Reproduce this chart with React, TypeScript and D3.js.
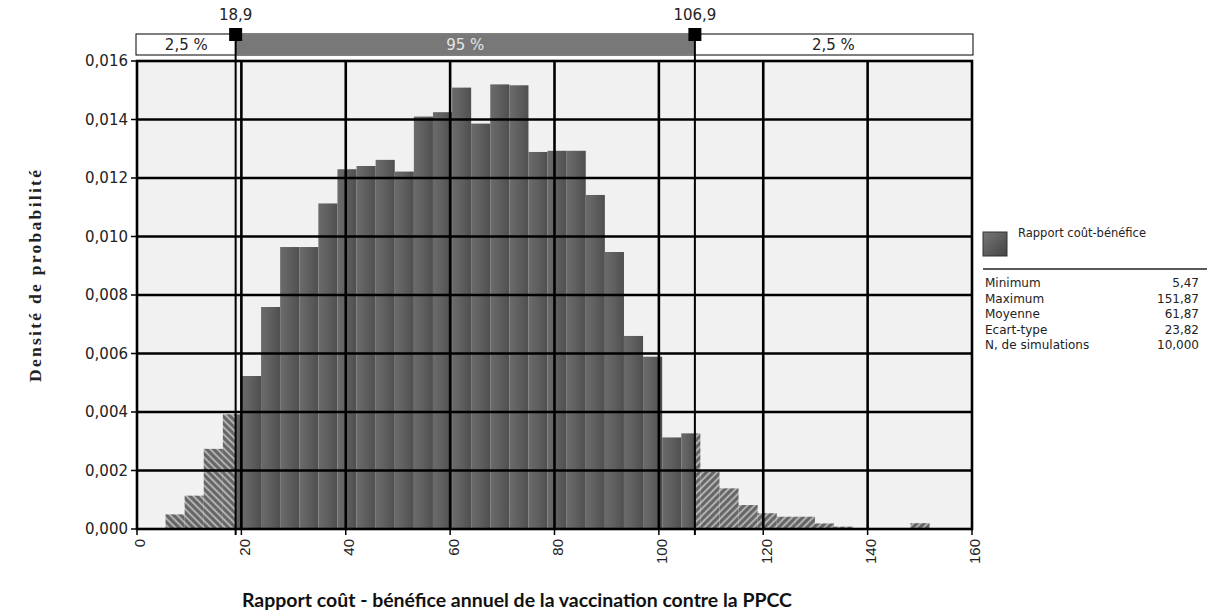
import React from "react";
import * as d3 from "d3";

// ---- data ----
const binStart = 5.47;
const binWidth = 3.66;
const densities = [
  0.0005, 0.00114, 0.00274, 0.00392, 0.00523, 0.00759, 0.00964, 0.00964,
  0.01113, 0.0123, 0.01241, 0.01262, 0.01222, 0.0141, 0.01425, 0.01509,
  0.01386, 0.0152, 0.01517, 0.01289, 0.01293, 0.01293, 0.01142, 0.00947,
  0.0066, 0.00589, 0.00313, 0.00327, 0.00196, 0.00139, 0.00082, 0.00054,
  0.00042, 0.00042, 0.00019, 0.00008, 0, 0, 0, 0.0002,
];
const lowerCut = 18.9;
const upperCut = 106.9;
const bandLabels = ["2,5 %", "95 %", "2,5 %"];
const cutLabels = ["18,9", "106,9"];
const xTicks = [0, 20, 40, 60, 80, 100, 120, 140, 160];
const yTicks = [0, 0.002, 0.004, 0.006, 0.008, 0.01, 0.012, 0.014, 0.016];
const legendTitle = "Rapport coût-bénéfice";
const statNames = ["Minimum", "Maximum", "Moyenne", "Ecart-type", "N, de simulations"];
const statValues = ["5,47", "151,87", "61,87", "23,82", "10,000"];
const xTitle = "Rapport coût - bénéfice annuel de la vaccination contre la PPCC";
const yTitle = "Densité de probabilité";

const W = 1210;
const H = 615;
const L = 137, R = 972, T = 61, B = 529;

export default function App() {
  const x = d3.scaleLinear().domain([0, 160]).range([L, R]);
  const y = d3.scaleLinear().domain([0, 0.016]).range([B, T]);
  const fmtY = (v: number) => d3.format(".3f")(v).replace(".", ",");

  type Seg = { x0: number; x1: number; v: number; kind: "L" | "M" | "R" };
  const segs: Seg[] = [];
  densities.forEach((v, i) => {
    if (v <= 0) return;
    const a = binStart + i * binWidth;
    const b = a + binWidth;
    const cuts = [a, Math.min(Math.max(lowerCut, a), b), Math.min(Math.max(upperCut, a), b), b];
    const kinds: ("L" | "M" | "R")[] = ["L", "M", "R"];
    for (let k = 0; k < 3; k++) {
      if (cuts[k + 1] - cuts[k] > 1e-9) segs.push({ x0: cuts[k], x1: cuts[k + 1], v, kind: kinds[k] });
    }
  });

  const bandTop = 34, bandBot = 55;
  const xl = x(lowerCut), xu = x(upperCut);
  const sans = "'DejaVu Sans', Verdana, sans-serif";

  return (
    <svg width={W} height={H} style={{ position: "absolute", left: 0, top: 0, background: "#fff" }}>
      <defs>
        <linearGradient id="barGrad" x1="0" y1="0" x2="1" y2="0">
          <stop offset="0%" stopColor="#6b6b6b" />
          <stop offset="45%" stopColor="#606060" />
          <stop offset="100%" stopColor="#4f4f4f" />
        </linearGradient>
        <linearGradient id="swGrad" x1="0" y1="0" x2="1" y2="1">
          <stop offset="0%" stopColor="#777" />
          <stop offset="100%" stopColor="#444" />
        </linearGradient>
        <pattern id="hatchL" width="5" height="5" patternUnits="userSpaceOnUse" patternTransform="rotate(-45)">
          <rect width="5" height="5" fill="#666" />
          <line x1="1" y1="0" x2="1" y2="5" stroke="#d8d8d8" strokeWidth="1.3" />
        </pattern>
        <pattern id="hatchR" width="5" height="5" patternUnits="userSpaceOnUse" patternTransform="rotate(45)">
          <rect width="5" height="5" fill="#666" />
          <line x1="1" y1="0" x2="1" y2="5" stroke="#d8d8d8" strokeWidth="1.3" />
        </pattern>
      </defs>

      {/* plot background */}
      <rect x={L} y={T} width={R - L} height={B - T} fill="#f1f1f1" />

      {/* bars */}
      {segs.map((s, i) => (
        <rect
          key={i}
          x={x(s.x0)}
          y={y(s.v)}
          width={x(s.x1) - x(s.x0)}
          height={B - y(s.v)}
          fill={s.kind === "M" ? "url(#barGrad)" : s.kind === "L" ? "url(#hatchL)" : "url(#hatchR)"}
        />
      ))}

      {/* gridlines */}
      {xTicks.slice(1, -1).map((t) => (
        <line key={"gx" + t} x1={x(t)} x2={x(t)} y1={T} y2={B} stroke="#000" strokeWidth={2.6} />
      ))}
      {yTicks.slice(1, -1).map((t) => (
        <line key={"gy" + t} x1={L} x2={R} y1={y(t)} y2={y(t)} stroke="#000" strokeWidth={2.6} />
      ))}

      {/* frame */}
      <rect x={L} y={T} width={R - L} height={B - T} fill="none" stroke="#000" strokeWidth={2.6} />

      {/* y ticks & labels */}
      {yTicks.map((t) => (
        <g key={"yt" + t}>
          <line x1={L - 6} x2={L} y1={y(t)} y2={y(t)} stroke="#000" strokeWidth={1.5} />
          <text x={L - 9} y={y(t)} dy="0.36em" textAnchor="end" fontFamily={sans} fontSize={15} fill="#222">
            {fmtY(t)}
          </text>
        </g>
      ))}

      {/* x ticks & labels */}
      {xTicks.map((t) => (
        <g key={"xt" + t}>
          <line x1={x(t)} x2={x(t)} y1={B} y2={B + 6} stroke="#000" strokeWidth={1.5} />
          <text
            transform={`translate(${x(t) + 3},${B + 10}) rotate(-90)`}
            dy="0.36em"
            textAnchor="end"
            fontFamily="'Liberation Sans', Arial, sans-serif"
            fontSize={15}
            fill="#222"
          >
            {t}
          </text>
        </g>
      ))}

      {/* band */}
      <rect x={L - 1} y={bandTop} width={R - L + 2} height={bandBot - bandTop} fill="#fff" stroke="#000" strokeWidth={1} />
      <rect x={xl} y={bandTop + 0.5} width={xu - xl} height={bandBot - bandTop - 1} fill="#787878" />
      <text x={(L + xl) / 2} y={(bandTop + bandBot) / 2} dy="0.36em" textAnchor="middle" fontFamily={sans} fontSize={15} fill="#222">
        {bandLabels[0]}
      </text>
      <text x={(xl + xu) / 2} y={(bandTop + bandBot) / 2} dy="0.36em" textAnchor="middle" fontFamily={sans} fontSize={15} fill="#e4e4e4">
        {bandLabels[1]}
      </text>
      <text x={(xu + R) / 2} y={(bandTop + bandBot) / 2} dy="0.36em" textAnchor="middle" fontFamily={sans} fontSize={15} fill="#222">
        {bandLabels[2]}
      </text>

      {/* cut lines and markers */}
      {[lowerCut, upperCut].map((c, i) => (
        <g key={"cut" + i}>
          <line x1={x(c)} x2={x(c)} y1={bandTop} y2={B + 6} stroke="#000" strokeWidth={2} />
          <rect x={x(c) - 6.5} y={28} width={13} height={13} fill="#000" />
          <text x={x(c)} y={20} textAnchor="middle" fontFamily={sans} fontSize={15} fill="#222">
            {cutLabels[i]}
          </text>
        </g>
      ))}

      {/* legend */}
      <rect x={983} y={232} width={24} height={24} fill="url(#swGrad)" stroke="#333" strokeWidth={1} />
      <text x={1018} y={237} fontFamily={sans} fontSize={11.5} fill="#222">
        {legendTitle}
      </text>
      <line x1={983} x2={1207} y1={269} y2={269} stroke="#222" strokeWidth={1.5} />
      {statNames.map((n, i) => (
        <g key={"st" + i}>
          <text x={985} y={287 + i * 15.5} fontFamily={sans} fontSize={12} fill="#222">
            {n}
          </text>
          <text x={1199} y={287 + i * 15.5} textAnchor="end" fontFamily={sans} fontSize={12} fill="#222">
            {statValues[i]}
          </text>
        </g>
      ))}

      {/* axis titles */}
      <text
        x={517}
        y={607}
        textAnchor="middle"
        fontFamily="Lato, 'Open Sans', sans-serif"
        fontWeight="bold"
        fontSize={19}
        textLength={550}
        lengthAdjust="spacingAndGlyphs"
        fill="#111"
      >
        {xTitle}
      </text>
      <text
        transform={`translate(41,276) rotate(-90)`}
        textAnchor="middle"
        fontFamily="'Liberation Serif', 'Times New Roman', serif"
        fontWeight="bold"
        fontSize={17.5}
        textLength={212}
        lengthAdjust="spacing"
        fill="#222"
      >
        {yTitle}
      </text>
    </svg>
  );
}
